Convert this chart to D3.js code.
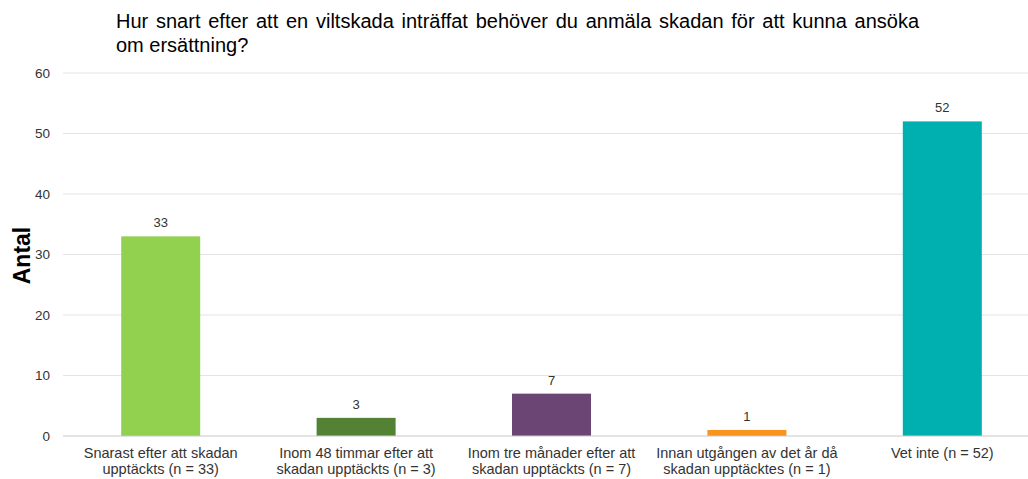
<!DOCTYPE html>
<html>
<head>
<meta charset="utf-8">
<script src="https://cdn.jsdelivr.net/npm/d3@7"></script>
<style>
  body { margin: 0; background: #fff; }
  text { font-family: "Liberation Sans", Arial, sans-serif; }
</style>
</head>
<body>
<svg class="chart" width="1028" height="479"></svg>
<script>
var categories = [
  ["Snarast efter att skadan", "upptäckts (n = 33)"],
  ["Inom 48 timmar efter att", "skadan upptäckts (n = 3)"],
  ["Inom tre månader efter att", "skadan upptäckts (n = 7)"],
  ["Innan utgången av det år då", "skadan upptäcktes (n = 1)"],
  ["Vet inte (n = 52)"]
];
var values = [33, 3, 7, 1, 52];
var colors = ["#92d050", "#548235", "#6b4574", "#f7941d", "#00b0b0"];
var yTicks = [0, 10, 20, 30, 40, 50, 60];
var titleLines = [
  "Hur snart efter att en viltskada inträffat behöver du anmäla skadan för att kunna ansöka",
  "om ersättning?"
];

var margin = {top: 73, left: 63, bottom: 43},
    width = 977,
    height = 479 - margin.top - margin.bottom;

var svg = d3.select(".chart");

var x = d3.scaleBand().domain(d3.range(values.length)).range([0, width]).padding(0);
var y = d3.scaleLinear().domain([0, 60]).range([height, 0]);

// title is justified in the original, so the first line gets wider word gaps
var title = svg.append("text")
    .attr("x", 116)
    .attr("y", 28)
    .style("font-size", "20px")
    .style("fill", "#000");
title.selectAll("tspan")
    .data(titleLines)
    .enter().append("tspan")
    .attr("x", 116)
    .attr("dy", function(d, i) { return i === 0 ? 0 : 24; })
    .style("word-spacing", function(d, i) { return i === 0 ? "2.2px" : "0px"; })
    .text(function(d) { return d; });

var chart = svg.append("g")
    .attr("transform", "translate(" + margin.left + "," + margin.top + ")");

// gridlines
chart.append("g")
    .selectAll("line")
    .data(yTicks.filter(function(t) { return t > 0; }))
    .enter().append("line")
    .attr("x1", 0).attr("x2", width)
    .attr("y1", function(d) { return y(d); })
    .attr("y2", function(d) { return y(d); })
    .style("stroke", "#e4e4e4")
    .style("stroke-width", 1);

var yAxis = d3.axisLeft(y).tickValues(yTicks).tickSize(0).tickPadding(13);
var yAxisG = chart.append("g").call(yAxis);
yAxisG.select(".domain").remove();
yAxisG.selectAll("text")
    .style("font-size", "13.5px")
    .style("fill", "#333")
    .style("font-family", "Liberation Sans, Arial, sans-serif");

svg.append("text")
    .attr("transform", "translate(30," + (margin.top + height / 2 + 1) + ") rotate(-90)")
    .attr("text-anchor", "middle")
    .style("font-size", "23px")
    .style("font-weight", "bold")
    .text("Antal");

var barW = 79;

chart.selectAll(".bar")
    .data(values)
    .enter().append("rect")
    .attr("class", "bar")
    .attr("x", function(d, i) { return x(i) + (x.bandwidth() - barW) / 2; })
    .attr("y", function(d) { return y(d); })
    .attr("width", barW)
    .attr("height", function(d) { return height - y(d); })
    .style("fill", function(d, i) { return colors[i]; });

chart.selectAll(".val")
    .data(values)
    .enter().append("text")
    .attr("class", "val")
    .attr("x", function(d, i) { return x(i) + x.bandwidth() / 2; })
    .attr("y", function(d) { return y(d) - 9; })
    .attr("text-anchor", "middle")
    .style("font-size", "13px")
    .style("fill", "#333")
    .text(function(d) { return d; });

// baseline
chart.append("line")
    .attr("x1", 0).attr("x2", width)
    .attr("y1", height).attr("y2", height)
    .style("stroke", "#c8c8c8")
    .style("stroke-width", 1);

var lab = chart.selectAll(".xlab")
    .data(categories)
    .enter().append("text")
    .attr("class", "xlab")
    .attr("x", function(d, i) { return x(i) + x.bandwidth() / 2; })
    .attr("y", height + 22)
    .attr("text-anchor", "middle")
    .style("font-size", "14.5px")
    .style("fill", "#333");
lab.selectAll("tspan")
    .data(function(d) { return d; })
    .enter().append("tspan")
    .attr("x", function() { return d3.select(this.parentNode).attr("x"); })
    .attr("dy", function(d, i) { return i === 0 ? 0 : 16; })
    .text(function(d) { return d; });
</script>
</body>
</html>
